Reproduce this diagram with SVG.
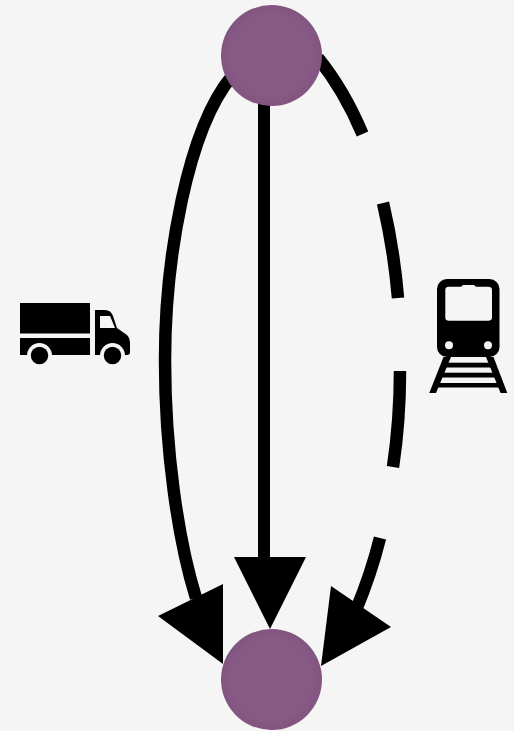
<svg xmlns="http://www.w3.org/2000/svg" width="514" height="731" viewBox="0 0 514 731">
<style>
.e{fill:none;stroke:#000;stroke-width:12}
.a{fill:none;stroke:#000;stroke-width:12.5}
.h{fill:#000}
.n{fill:url(#g)}
</style>
<defs>
<radialGradient id="g" cx="0.5" cy="0.5" r="0.5">
<stop offset="0" stop-color="#885b86"/><stop offset="0.8" stop-color="#875a85"/><stop offset="1" stop-color="#825480"/>
</radialGradient>
</defs>
<rect width="514" height="731" fill="#f5f5f5"/>
<g id="connectors">
<path class="a" d="M232,76C187,130 165,260 165,360C165,450 178,540 196,598"/>
<polygon class="h" points="158,616 223,584 223,664"/>
<path class="e" d="M264,95V560"/>
<polygon class="h" points="234,557 306,557 270,629"/>
<path class="a" d="M318,58Q344,90 362.5,134M383,203Q394,250 398,298M400,371Q400,420 393,467M380,538Q371,574 356,610"/>
<polygon class="h" points="331,586 391,627 321,666"/>
</g>
<g id="node-top"><circle class="n" cx="271.5" cy="55.5" r="50.5"/></g>
<g id="node-bottom"><circle class="n" cx="271.5" cy="679.5" r="50.5"/></g>
<g id="truck">
<rect class="h" x="20" y="303" width="70" height="30.5"/>
<path class="h" d="M20,338H90V355H20Z"/>
<path class="h" d="M95,310H105Q111,310 113,316L117,328L127,335Q130,338 130,342V352Q130,355 127,355H95Z"/>
<path fill="#f5f5f5" d="M100,316H110L115,328H100Z"/>
<circle cx="39.5" cy="355.5" r="12.5" fill="#f5f5f5"/>
<circle class="h" cx="39.5" cy="355.5" r="8.7"/>
<circle cx="112.5" cy="355.5" r="12.5" fill="#f5f5f5"/>
<circle class="h" cx="112.5" cy="355.5" r="8.7"/>
</g>
<g id="train">
<rect class="h" x="437" y="279" width="62.5" height="78" rx="10"/>
<path fill="#f5f5f5" d="M445.3,290Q445.3,286.7 449,286.7H461L463,285H474L476,286.7H488Q492,286.7 492,290V317.5Q492,320.7 488,320.7H449Q445.3,320.7 445.3,317.5Z"/>
<circle cx="449" cy="345.3" r="4" fill="#f5f5f5"/>
<circle cx="488" cy="345.3" r="4" fill="#f5f5f5"/>
<polygon class="h" points="443.5,357 451,357 436,393 429.3,393"/>
<polygon class="h" points="486,357 493.5,357 507.3,393 500.6,393"/>
<rect class="h" x="445" y="362.7" width="47" height="4.8"/>
<rect class="h" x="440" y="372.7" width="57" height="4.8"/>
<rect class="h" x="436" y="383" width="65" height="4.5"/>
</g>
</svg>
